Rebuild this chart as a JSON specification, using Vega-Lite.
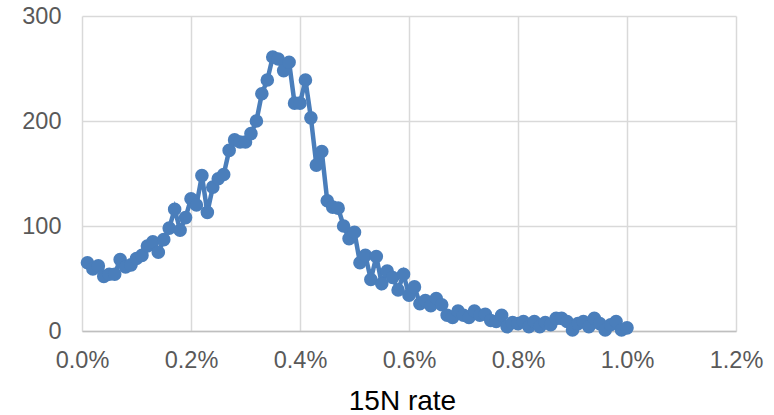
{
  "$schema": "https://vega.github.io/schema/vega-lite/v6.json",
  "autosize": {"type": "none"},
  "padding": {"left": 82, "top": 16, "right": 38, "bottom": 84},
  "width": 654,
  "height": 315,
  "background": "white",
  "config": {
    "view": {"stroke": null},
    "font": "Liberation Sans",
    "axis": {"labelFont": "Liberation Sans", "titleFont": "Liberation Sans"}
  },
  "data": {
    "values": [
      {"rate": 0.0001, "value": 65}, {"rate": 0.0002, "value": 59}, {"rate": 0.0003, "value": 62}, {"rate": 0.0004, "value": 52},
      {"rate": 0.0005, "value": 54}, {"rate": 0.0006, "value": 54}, {"rate": 0.0007, "value": 68}, {"rate": 0.0008, "value": 61},
      {"rate": 0.0009, "value": 63}, {"rate": 0.0010, "value": 69}, {"rate": 0.0011, "value": 72}, {"rate": 0.0012, "value": 81},
      {"rate": 0.0013, "value": 85}, {"rate": 0.0014, "value": 75}, {"rate": 0.0015, "value": 87}, {"rate": 0.0016, "value": 98},
      {"rate": 0.0017, "value": 116}, {"rate": 0.0018, "value": 96}, {"rate": 0.0019, "value": 108}, {"rate": 0.0020, "value": 126},
      {"rate": 0.0021, "value": 120}, {"rate": 0.0022, "value": 148}, {"rate": 0.0023, "value": 113}, {"rate": 0.0024, "value": 137},
      {"rate": 0.0025, "value": 145}, {"rate": 0.0026, "value": 149}, {"rate": 0.0027, "value": 172}, {"rate": 0.0028, "value": 182},
      {"rate": 0.0029, "value": 180}, {"rate": 0.0030, "value": 180}, {"rate": 0.0031, "value": 188}, {"rate": 0.0032, "value": 200},
      {"rate": 0.0033, "value": 226}, {"rate": 0.0034, "value": 239}, {"rate": 0.0035, "value": 261}, {"rate": 0.0036, "value": 259},
      {"rate": 0.0037, "value": 248}, {"rate": 0.0038, "value": 256}, {"rate": 0.0039, "value": 217}, {"rate": 0.0040, "value": 217},
      {"rate": 0.0041, "value": 239}, {"rate": 0.0042, "value": 203}, {"rate": 0.0043, "value": 158}, {"rate": 0.0044, "value": 171},
      {"rate": 0.0045, "value": 124}, {"rate": 0.0046, "value": 118}, {"rate": 0.0047, "value": 117}, {"rate": 0.0048, "value": 100},
      {"rate": 0.0049, "value": 88}, {"rate": 0.0050, "value": 94}, {"rate": 0.0051, "value": 65}, {"rate": 0.0052, "value": 72},
      {"rate": 0.0053, "value": 49}, {"rate": 0.0054, "value": 71}, {"rate": 0.0055, "value": 45}, {"rate": 0.0056, "value": 57},
      {"rate": 0.0057, "value": 51}, {"rate": 0.0058, "value": 39}, {"rate": 0.0059, "value": 54}, {"rate": 0.0060, "value": 34},
      {"rate": 0.0061, "value": 42}, {"rate": 0.0062, "value": 26}, {"rate": 0.0063, "value": 29}, {"rate": 0.0064, "value": 24},
      {"rate": 0.0065, "value": 31}, {"rate": 0.0066, "value": 25}, {"rate": 0.0067, "value": 15}, {"rate": 0.0068, "value": 13},
      {"rate": 0.0069, "value": 19}, {"rate": 0.0070, "value": 15}, {"rate": 0.0071, "value": 13}, {"rate": 0.0072, "value": 19},
      {"rate": 0.0073, "value": 15}, {"rate": 0.0074, "value": 16}, {"rate": 0.0075, "value": 10}, {"rate": 0.0076, "value": 9},
      {"rate": 0.0077, "value": 15}, {"rate": 0.0078, "value": 4}, {"rate": 0.0079, "value": 8}, {"rate": 0.0080, "value": 7},
      {"rate": 0.0081, "value": 9}, {"rate": 0.0082, "value": 4}, {"rate": 0.0083, "value": 9}, {"rate": 0.0084, "value": 4},
      {"rate": 0.0085, "value": 8}, {"rate": 0.0086, "value": 6}, {"rate": 0.0087, "value": 12}, {"rate": 0.0088, "value": 12},
      {"rate": 0.0089, "value": 9}, {"rate": 0.0090, "value": 1}, {"rate": 0.0091, "value": 7}, {"rate": 0.0092, "value": 9},
      {"rate": 0.0093, "value": 4}, {"rate": 0.0094, "value": 12}, {"rate": 0.0095, "value": 7}, {"rate": 0.0096, "value": 1},
      {"rate": 0.0097, "value": 6}, {"rate": 0.0098, "value": 9}, {"rate": 0.0099, "value": 1}, {"rate": 0.0100, "value": 3}
    ]
  },
  "mark": {
    "type": "line",
    "color": "#4a7ebb",
    "strokeWidth": 4.5,
    "point": {"filled": true, "size": 185, "color": "#4a7ebb", "opacity": 1}
  },
  "encoding": {
    "x": {
      "field": "rate",
      "type": "quantitative",
      "scale": {"domain": [0, 0.012], "nice": false, "zero": true},
      "axis": {
        "values": [0, 0.002, 0.004, 0.006, 0.008, 0.01, 0.012],
        "format": ".1%",
        "title": "15N rate",
        "titleFontSize": 28,
        "titleFontWeight": "normal",
        "titleColor": "#000000",
        "titleBaseline": "alphabetic",
        "titleAlign": "center",
        "titleX": 320,
        "titleY": 78,
        "labelFontSize": 23.5,
        "labelColor": "#595959",
        "labelPadding": 17,
        "ticks": false,
        "tickSize": 0,
        "domain": true,
        "domainColor": "#bfbfbf",
        "domainWidth": 1.5,
        "grid": true,
        "gridColor": "#d9d9d9",
        "gridWidth": 1.5,
        "labelFlush": false,
        "labelOverlap": false
      }
    },
    "y": {
      "field": "value",
      "type": "quantitative",
      "scale": {"domain": [0, 300], "nice": false},
      "axis": {
        "values": [0, 100, 200, 300],
        "title": null,
        "labelFontSize": 23.5,
        "labelColor": "#595959",
        "labelPadding": 21,
        "ticks": false,
        "tickSize": 0,
        "domain": false,
        "grid": true,
        "gridColor": "#d9d9d9",
        "gridWidth": 1.5,
        "labelFlush": false,
        "labelOverlap": false
      }
    }
  }
}
